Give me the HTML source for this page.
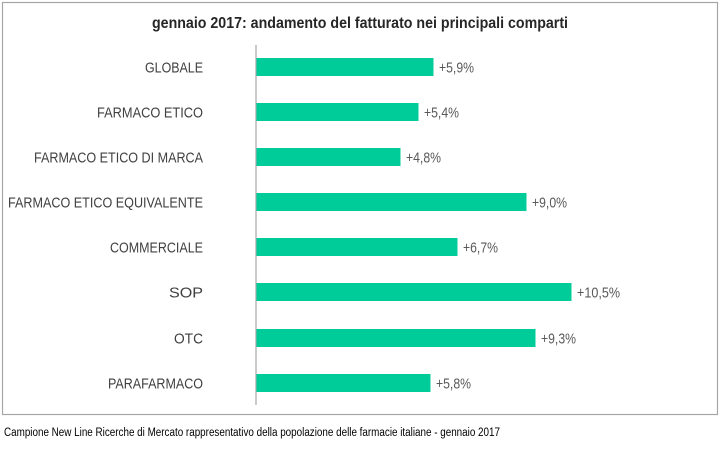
<!DOCTYPE html>
<html><head><meta charset="utf-8"><style>
body{margin:0;background:#fff;width:720px;height:444px;overflow:hidden}
svg text{font-family:"Liberation Sans Narrow","Liberation Sans",sans-serif}
</style></head><body>
<svg width="720" height="444" viewBox="0 0 720 444">
<rect x="2.5" y="2.5" width="715" height="412" fill="#fff" stroke="#a6a6a6" stroke-width="1.2"/>
<text x="360" y="28" text-anchor="middle" font-size="16" font-weight="bold" fill="#262626" textLength="416" lengthAdjust="spacingAndGlyphs">gennaio 2017: andamento del fatturato nei principali comparti</text>
<line x1="256" y1="45" x2="256" y2="405" stroke="#a6a6a6" stroke-width="1.2"/>
<g fill="#00CC99">
<rect x="256.5" y="58" width="177" height="18"/>
<rect x="256.5" y="103" width="162" height="18"/>
<rect x="256.5" y="148" width="144" height="18"/>
<rect x="256.5" y="193" width="270" height="18"/>
<rect x="256.5" y="238" width="201" height="18"/>
<rect x="256.5" y="283" width="315" height="18"/>
<rect x="256.5" y="329" width="279" height="18"/>
<rect x="256.5" y="374" width="174" height="18"/>
</g>
<g font-size="15" fill="#404040" text-anchor="end">
<text x="203" y="72.5" textLength="58" lengthAdjust="spacingAndGlyphs">GLOBALE</text>
<text x="203" y="117.5" textLength="106" lengthAdjust="spacingAndGlyphs">FARMACO ETICO</text>
<text x="203" y="162.5" textLength="169" lengthAdjust="spacingAndGlyphs">FARMACO ETICO DI MARCA</text>
<text x="203" y="207.5" textLength="195" lengthAdjust="spacingAndGlyphs">FARMACO ETICO EQUIVALENTE</text>
<text x="203" y="252.5" textLength="93" lengthAdjust="spacingAndGlyphs">COMMERCIALE</text>
<text x="203" y="297.5" textLength="34" lengthAdjust="spacingAndGlyphs">SOP</text>
<text x="203" y="343.5" textLength="29" lengthAdjust="spacingAndGlyphs">OTC</text>
<text x="203" y="388.5" textLength="95" lengthAdjust="spacingAndGlyphs">PARAFARMACO</text>
</g>
<g font-size="15" fill="#595959">
<text x="439" y="72.5" textLength="35" lengthAdjust="spacingAndGlyphs">+5,9%</text>
<text x="424" y="117.5" textLength="35" lengthAdjust="spacingAndGlyphs">+5,4%</text>
<text x="406" y="162.5" textLength="35" lengthAdjust="spacingAndGlyphs">+4,8%</text>
<text x="532" y="207.5" textLength="35" lengthAdjust="spacingAndGlyphs">+9,0%</text>
<text x="463" y="252.5" textLength="35" lengthAdjust="spacingAndGlyphs">+6,7%</text>
<text x="577" y="297.5" textLength="43" lengthAdjust="spacingAndGlyphs">+10,5%</text>
<text x="541" y="343.5" textLength="35" lengthAdjust="spacingAndGlyphs">+9,3%</text>
<text x="436" y="388.5" textLength="35" lengthAdjust="spacingAndGlyphs">+5,8%</text>
</g>
<text x="4" y="436" font-size="11.5" fill="#000" textLength="496" lengthAdjust="spacingAndGlyphs">Campione New Line Ricerche di Mercato rappresentativo della popolazione delle farmacie italiane - gennaio 2017</text>
</svg>
</body></html>
